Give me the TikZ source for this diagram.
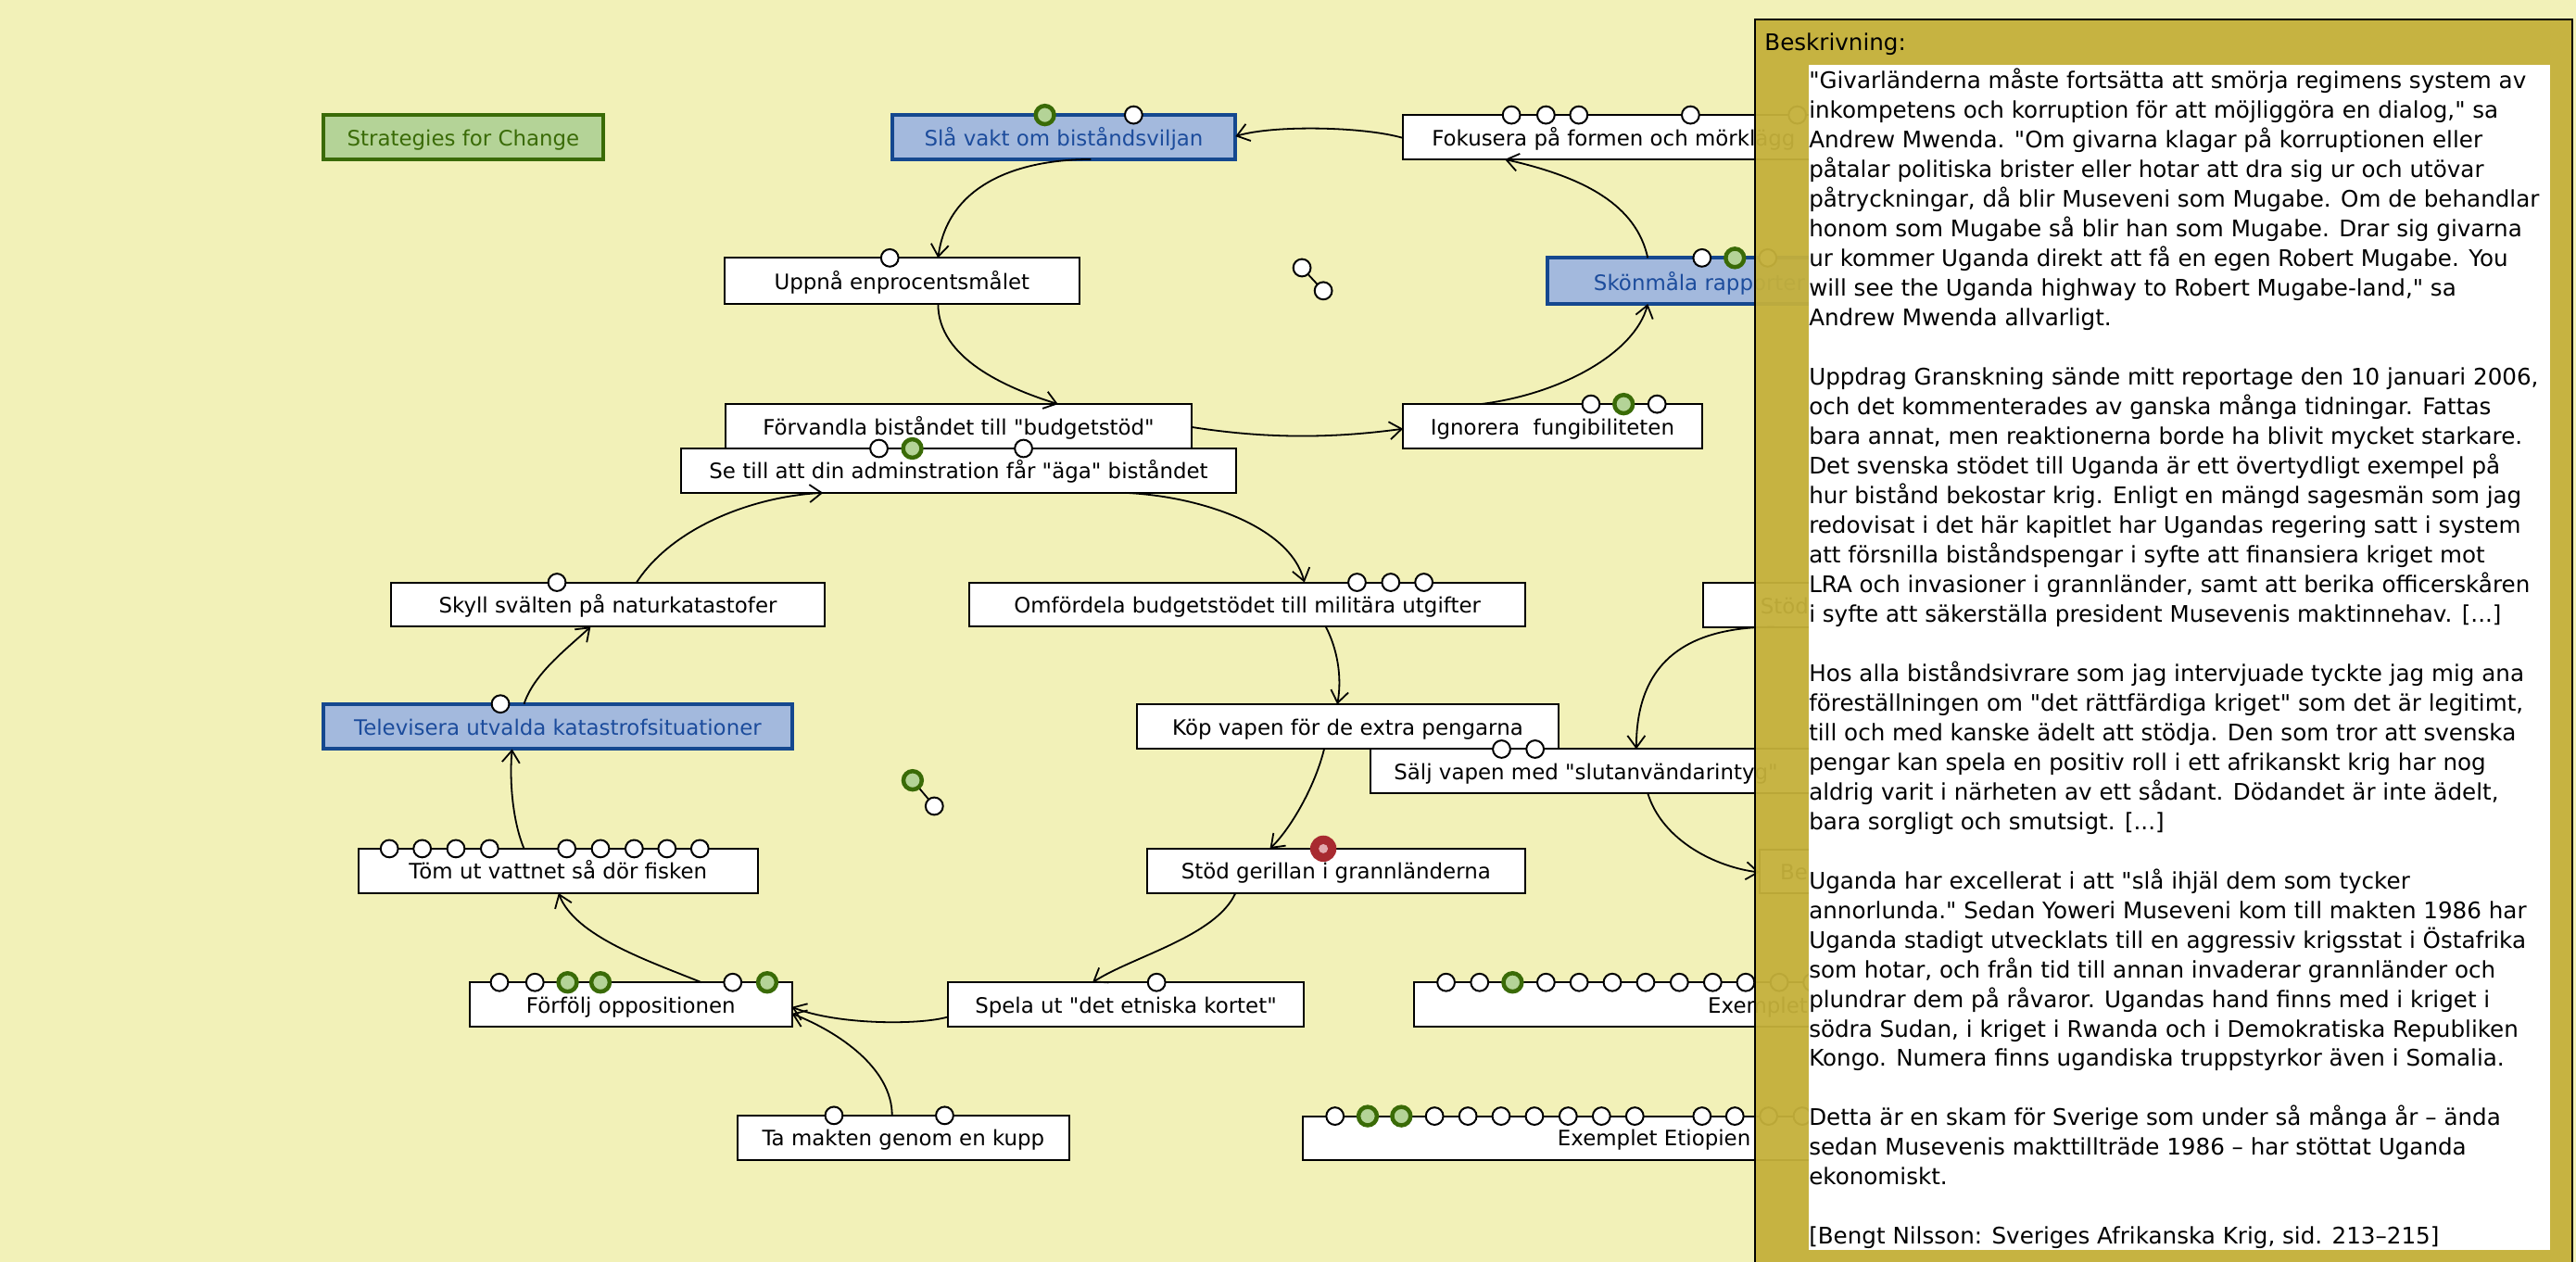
\documentclass[tikz,border=0pt]{standalone}
\usepackage{fontspec}
\setmainfont{DejaVu Sans}[Ligatures=TeXOff]
\usetikzlibrary{arrows.meta}
\definecolor{bgc}{HTML}{F2F1B8}
\definecolor{panelc}{HTML}{C4B03B}
\definecolor{gfill}{HTML}{B4D397}
\definecolor{gline}{HTML}{3A6B07}
\definecolor{bfill}{HTML}{A3B9DD}
\definecolor{bline}{HTML}{15488F}
\definecolor{btext}{HTML}{1C4C9C}
\definecolor{redc}{HTML}{A82A30}
\definecolor{pinkc}{HTML}{E2AAAE}
\newcommand\labfont{\fontsize{22.9pt}{27pt}\selectfont}
\newcommand\descfont{\fontsize{24.6pt}{31.97pt}\selectfont}
\newcommand\bx[7]{\node[#1, minimum width={(#5-#3)*1.773pt}, minimum height={(#6-#4)*1.773pt}] (#2) at (#3,#4) {#7};}
\newcommand\wcir[2]{\draw[wc] (#1,0 |- #2.north) circle[radius=5.3];}
\newcommand\gcir[2]{\draw[gc] (#1,0 |- #2.north) circle[radius=5.6];}
\begin{document}
\begin{tikzpicture}[x=1.773pt,y=-1.773pt,
  box/.style={draw=black, line width=2pt, fill=white, inner sep=0pt, outer sep=0pt, anchor=north west, text height=18pt, text depth=0pt, font=\labfont},
  bluebox/.style={box, draw=bline, fill=bfill, line width=4pt, text=btext},
  greenbox/.style={box, draw=gline, fill=gfill, line width=4pt, text=gline},
  lbl/.style={font=\labfont, inner sep=0pt, anchor=base west},
  wc/.style={draw=black, fill=white, line width=2pt},
  gc/.style={draw=gline, fill=gfill, line width=4.5pt},
  edge/.style={draw=black, line width=1.8pt, -{Straight Barb[length=13pt,width=19pt,line width=1.8pt]}}
]
\useasboundingbox (0,0) rectangle (1568,768);
\fill[bgc] (0,0) rectangle (1568,768);

% boxes
\bx{greenbox}{strat}{197}{70}{367}{97}{Strategies for Change}
\bx{bluebox}{slavakt}{543}{70}{752}{97}{Slå vakt om biståndsviljan}
\bx{box}{fokus}{854}{70}{1110}{97}{}
\node[lbl] (fokusT) at (871.5,88.7) {Fokusera på formen och mörklägg};
\bx{box}{uppna}{441}{157}{657}{185}{Uppnå enprocentsmålet}
\bx{bluebox}{skon}{942}{157}{1110}{185}{}
\node[lbl, text=btext] (skonT) at (970,176.7) {Skönmåla rapporter};
\bx{box}{forv}{441.5}{246}{725.5}{273}{Förvandla biståndet till "budgetstöd"}
\bx{box}{ign}{854}{246}{1036}{273}{Ignorera\ \ fungibiliteten}
\bx{box}{setill}{414.5}{273}{752.5}{300}{Se till att din adminstration får "äga" biståndet}
\bx{box}{skyll}{238}{354.5}{502}{381.5}{Skyll svälten på naturkatastofer}
\bx{box}{omf}{590}{354.5}{928.5}{381.5}{Omfördela budgetstödet till militära utgifter}
\bx{box}{stod}{1036.5}{355}{1110}{381.6}{}
\node[lbl] (stodT) at (1071.5,373.5) {Stöd};
\bx{bluebox}{telev}{197}{428.5}{482}{456}{Televisera utvalda katastrofsituationer}
\bx{box}{kop}{692}{428.7}{948.7}{456}{Köp vapen för de extra pengarna}
\bx{box}{salj}{834}{456}{1110}{483}{}
\node[lbl] (saljT) at (848.4,474.6) {Sälj vapen med "slutanvändarintyg"};
\bx{box}{tom}{218}{516.6}{461.4}{543.7}{Töm ut vattnet så dör fisken}
\bx{box}{stodg}{698}{516.6}{928.4}{543.7}{Stöd gerillan i grannländerna}
\bx{box}{be}{1071}{517}{1110}{543.7}{}
\node[lbl] (beT) at (1083.5,535.3) {Be};
\bx{box}{forf}{286}{598}{482}{625}{Förfölj oppositionen}
\bx{box}{spela}{577}{598}{793.6}{625}{Spela ut "det etniska kortet"}
\bx{box}{exemp}{860.7}{598}{1110}{625}{}
\node[lbl] (exempT) at (1039.5,616.8) {Exemplet};
\bx{box}{tamak}{448.7}{679}{651}{706}{Ta makten genom en kupp}
\bx{box}{etiop}{793}{679.4}{1110}{706}{}
\node[lbl] (etiopT) at (948,697.3) {Exemplet Etiopien};

% connectors
\draw[edge] (fokus.west |- 0,84) .. controls (830,77) and (775,76) .. (slavakt.east |- 0,83);
\draw[edge] (664,0 |- slavakt.south) .. controls (620,97) and (577,112) .. (571,0 |- uppna.north);
\draw[edge] (571,0 |- uppna.south) .. controls (571,218) and (612,236) .. (644,0 |- forv.north);
\draw[edge] (forv.east |- 0,260) .. controls (770,267) and (810,267) .. (ign.west |- 0,261);
\draw[edge] (901,0 |- ign.north) .. controls (950,240) and (995,215) .. (1003,0 |- skon.south);
\draw[edge] (1003,0 |- skon.north) .. controls (996,125) and (965,108) .. (916,0 |- fokus.south);
\draw[edge] (685,0 |- setill.south) .. controls (730,302) and (785,320) .. (794,0 |- omf.north);
\draw[edge] (387.5,0 |- skyll.north) .. controls (410,320) and (460,302) .. (501,0 |- setill.south);
\draw[edge] (319,0 |- telev.north) .. controls (325,410) and (345,395) .. (359.5,0 |- skyll.south);
\draw[edge] (807,0 |- omf.south) .. controls (814,395) and (817,412) .. (814,0 |- kop.north);
\draw[edge] (806,0 |- kop.south) .. controls (800,480) and (785,505) .. (773,0 |- stodg.north);
\draw[edge] (752,0 |- stodg.south) .. controls (740,570) and (690,582) .. (665,0 |- spela.north);
\draw[edge] (spela.west |- 0,619) .. controls (560,624) and (510,624) .. (forf.east |- 0,613);
\draw[edge] (543,0 |- tamak.north) .. controls (543,650) and (510,628) .. (forf.east |- 0,617);
\draw[edge] (427,0 |- forf.north) .. controls (395,585) and (350,570) .. (340,0 |- tom.south);
\draw[edge] (319,0 |- tom.north) .. controls (312,500) and (310,475) .. (311.7,0 |- telev.south);
\draw[edge] (1080,0 |- stod.south) .. controls (1030,381.6) and (996,400) .. (996,0 |- salj.north);
\draw[edge] (1003,0 |- salj.south) .. controls (1012,512) and (1045,528) .. (be.west |- 0,531);

% circles on boxes
\gcir{636}{slavakt} \wcir{690}{slavakt}
\wcir{920}{fokus} \wcir{941}{fokus} \wcir{961}{fokus} \wcir{1029}{fokus} \wcir{1094}{fokus}
\wcir{541.6}{uppna}
\wcir{1036}{skon} \gcir{1056}{skon} \wcir{1076}{skon}
\wcir{968.4}{ign} \gcir{988.3}{ign} \wcir{1008.6}{ign}
\wcir{535}{setill} \gcir{555.3}{setill} \wcir{623}{setill}
\wcir{339}{skyll}
\wcir{826}{omf} \wcir{846.5}{omf} \wcir{866.7}{omf}
\wcir{304.6}{telev}
\wcir{914}{salj} \wcir{934.4}{salj}
\foreach \cx in {237,257,277.5,298,345,365.5,386,406,426} {\wcir{\cx}{tom}}
\fill[redc] (805.5,0 |- stodg.north) circle[radius=8];
\fill[pinkc] (805.5,0 |- stodg.north) circle[radius=2.8];
\wcir{304}{forf} \wcir{325.6}{forf} \gcir{345.5}{forf} \gcir{365.5}{forf} \wcir{446}{forf} \gcir{467}{forf}
\wcir{704}{spela}
\wcir{507.6}{tamak} \wcir{575}{tamak}
\foreach \cx in {880.2,900.6,941,961.2,981.4,1001.7,1022.2,1042.5,1062.6,1083,1103} {\wcir{\cx}{exemp}}
\gcir{920.7}{exemp}
\foreach \cx in {812.6,873.2,893.5,913.7,934,954.5,974.8,995.1,1036,1056,1076.5,1097} {\wcir{\cx}{etiop}}
\gcir{832.5}{etiop} \gcir{853}{etiop}

% free link glyphs
\draw[line width=1.8pt] (792.5,163) -- (805.5,177);
\draw[wc] (792.5,163) circle[radius=5.3];
\draw[wc] (805.5,177) circle[radius=5.3];
\draw[line width=1.8pt] (555.5,475) -- (568.7,490.7);
\draw[gc] (555.5,475) circle[radius=5.6];
\draw[wc] (568.7,490.7) circle[radius=5.3];

% description panel
\fill[panelc, fill opacity=0.95] (1068,12) rectangle (1565.5,775);
\draw[black, line width=2pt] (1068,775) -- (1068,12) -- (1565.5,12) -- (1565.5,775);
\node[font=\descfont, inner sep=0pt, anchor=base west] (beskr) at (1074,31) {Beskrivning:};
\fill[white] (1101,39.5) rectangle (1552,761);
\node[font=\descfont, inner sep=0pt, anchor=north west, align=left] (desc) at (1101,41.4) {\strut"Givarländerna måste fortsätta att smörja regimens system av\\
inkompetens och korruption för att möjliggöra en dialog," sa\\
Andrew Mwenda. "Om givarna klagar på korruptionen eller\\
påtalar politiska brister eller hotar att dra sig ur och utövar\\
påtryckningar, då blir Museveni som Mugabe. Om de behandlar\\
honom som Mugabe så blir han som Mugabe. Drar sig givarna\\
ur kommer Uganda direkt att få en egen Robert Mugabe. You\\
will see the Uganda highway to Robert Mugabe-land," sa\\
Andrew Mwenda allvarligt.\\
\mbox{}\\
Uppdrag Granskning sände mitt reportage den 10 januari 2006,\\
och det kommenterades av ganska många tidningar. Fattas\\
bara annat, men reaktionerna borde ha blivit mycket starkare.\\
Det svenska stödet till Uganda är ett övertydligt exempel på\\
hur bistånd bekostar krig. Enligt en mängd sagesmän som jag\\
redovisat i det här kapitlet har Ugandas regering satt i system\\
att försnilla biståndspengar i syfte att finansiera kriget mot\\
LRA och invasioner i grannländer, samt att berika officerskåren\\
i syfte att säkerställa president Musevenis maktinnehav. [...]\\
\mbox{}\\
Hos alla biståndsivrare som jag intervjuade tyckte jag mig ana\\
föreställningen om "det rättfärdiga kriget" som det är legitimt,\\
till och med kanske ädelt att stödja. Den som tror att svenska\\
pengar kan spela en positiv roll i ett afrikanskt krig har nog\\
aldrig varit i närheten av ett sådant. Dödandet är inte ädelt,\\
bara sorgligt och smutsigt. [...]\\
\mbox{}\\
Uganda har excellerat i att "slå ihjäl dem som tycker\\
annorlunda." Sedan Yoweri Museveni kom till makten 1986 har\\
Uganda stadigt utvecklats till en aggressiv krigsstat i Östafrika\\
som hotar, och från tid till annan invaderar grannländer och\\
plundrar dem på råvaror. Ugandas hand finns med i kriget i\\
södra Sudan, i kriget i Rwanda och i Demokratiska Republiken\\
Kongo. Numera finns ugandiska truppstyrkor även i Somalia.\\
\mbox{}\\
Detta är en skam för Sverige som under så många år – ända\\
sedan Musevenis makttillträde 1986 – har stöttat Uganda\\
ekonomiskt.\\
\mbox{}\\
{[}Bengt Nilsson: Sveriges Afrikanska Krig, sid. 213–215]};
\end{tikzpicture}
\end{document}
